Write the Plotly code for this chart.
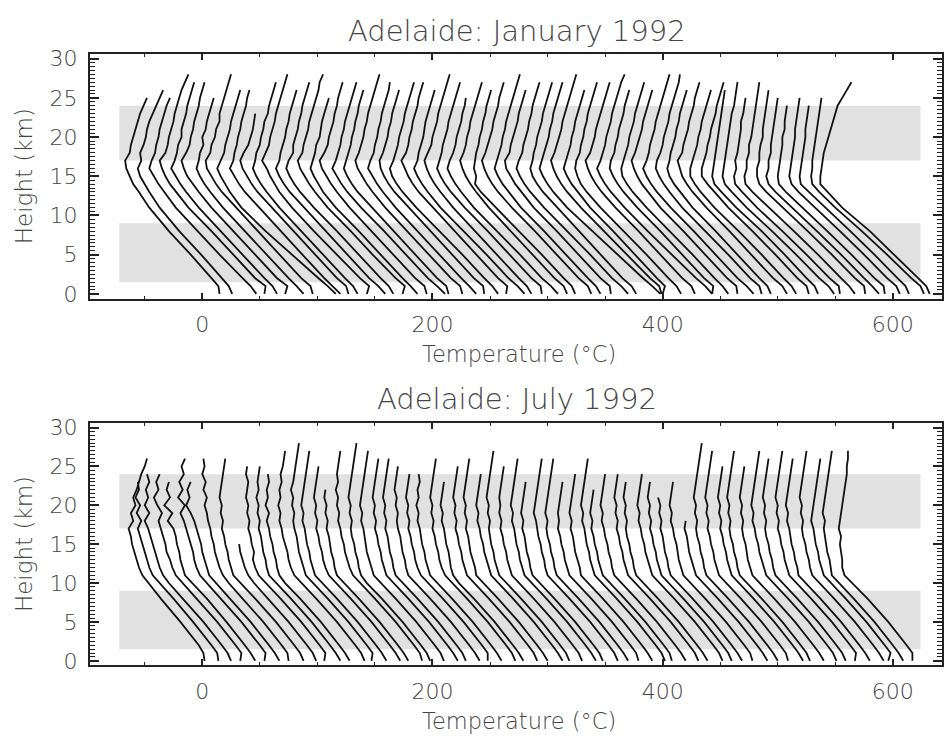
import plotly.graph_objects as go

# ---------------- data ----------------
# heights (km) at which each sounding's temperature is given
HEIGHTS_JAN = [0, 1, 2, 5, 8, 11, 13, 14, 15, 16, 17, 18, 19, 20, 21, 22, 23, 24, 25, 26, 27, 28]
HEIGHTS_JUL = [0, 1, 2, 5, 8, 10, 11, 12, 13, 14, 15, 16, 17, 18, 19, 20, 21, 22, 23, 24, 25, 26, 27, 28]

# successive soundings are shifted by this many degrees
OFFSET_STEP = 10

# temperature (°C) of each sounding, from the ground up (profile ends where the list ends)
TEMPS_JAN = [
    [15, 14, 8, -10, -29, -46, -55, -60, -63, -66, -67, -63, -62, -60, -58, -56, -54, -51, -48],
    [16, 13, 7, -11, -30, -47, -56, -60, -64, -66, -63, -64, -61, -59, -58, -56, -53, -50, -47, -44],
    [27, 22, 15, -5, -24, -43, -53, -58, -62, -66, -64, -61, -60, -58, -57, -55, -53, -51, -48],
    [24, 25, 16, -3, -22, -42, -53, -58, -62, -65, -67, -62, -60, -59, -57, -55, -54, -52, -50, -48, -45, -42],
    [25, 21, 14, -5, -24, -43, -54, -59, -63, -67, -64, -62, -61, -58, -58, -56, -54, -53, -51, -49, -47],
    [22, 24, 15, -4, -23, -42, -53, -58, -63, -66, -68, -64, -61, -60, -58, -57, -55, -53, -52, -50, -48],
    [28, 22, 15, -4, -23, -42, -53, -58, -62, -65, -63, -62, -59, -60, -57, -56, -54, -52, -50],
    [26, 24, 16, -3, -22, -41, -53, -58, -62, -66, -67, -63, -62, -59, -58, -55, -55, -53, -51, -49, -47, -45],
    [36, 29, 21, -2, -25, -46, -56, -60, -64, -67, -64, -61, -60, -58, -56, -55, -53, -51, -49, -47],
    [30, 23, 16, -3, -22, -41, -53, -58, -62, -66, -63, -62, -60, -59, -57, -56, -54, -52, -51, -49],
    [27, 25, 17, -2, -21, -40, -52, -57, -61, -65, -67, -64, -60, -58, -56, -55, -54],
    [25, 21, 14, -5, -24, -43, -54, -59, -63, -66, -64, -63, -60, -59, -57, -56, -53, -52, -50, -48, -46],
    [23, 25, 17, -3, -23, -42, -53, -57, -61, -64, -68, -65, -62, -61, -59, -57, -56, -54, -52, -50, -48, -46],
    [29, 23, 15, -4, -23, -42, -54, -59, -63, -66, -63, -62, -60, -58, -57, -55, -54, -52, -50, -48],
    [26, 22, 15, -4, -23, -43, -55, -60, -64, -67, -65, -61, -61, -59, -57, -56, -54, -53, -51, -49, -47],
    [24, 26, 18, -2, -21, -41, -52, -57, -61, -65, -67, -63, -62, -60, -58, -57, -55, -53, -51, -49, -48, -45],
    [27, 21, 14, -5, -24, -44, -55, -59, -63, -66, -64, -62, -61, -58, -57, -56, -54, -52, -50],
    [25, 23, 15, -4, -23, -42, -53, -58, -62, -66, -68, -64, -61, -60, -58, -56, -55, -53, -52, -50, -48],
    [31, 24, 16, -3, -22, -42, -54, -59, -63, -67, -64, -62, -60, -59, -57, -56, -54, -52, -50, -48, -46],
    [24, 22, 14, -5, -24, -43, -55, -60, -64, -67, -65, -63, -61, -60, -58, -57, -55, -54, -52, -50],
    [26, 24, 16, -3, -22, -41, -52, -57, -61, -65, -67, -64, -62, -60, -59, -57, -56, -54, -52, -50, -48, -46],
    [28, 22, 15, -4, -23, -42, -53, -58, -62, -66, -64, -61, -60, -58, -57, -55, -54, -52, -50, -48, -47],
    [25, 24, 16, -3, -22, -41, -53, -58, -62, -65, -66, -63, -61, -59, -58, -56, -55, -53, -51, -49],
    [27, 22, 15, -4, -24, -44, -56, -61, -65, -67, -64, -62, -60, -59, -57, -55, -54, -52, -50, -48, -46],
    [24, 25, 17, -2, -21, -40, -52, -57, -61, -64, -67, -63, -61, -60, -58, -57, -55, -53, -52, -50, -48],
    [30, 24, 16, -3, -23, -43, -54, -59, -63, -66, -63, -62, -60, -58, -57, -56, -54, -52, -50, -48],
    [26, 22, 15, -4, -23, -42, -53, -58, -62, -65, -67, -64, -61, -60, -58, -56, -55, -53, -51, -49, -47, -45],
    [25, 24, 16, -3, -22, -42, -54, -59, -63, -66, -64, -62, -61, -59, -57, -56, -54, -52, -50, -48, -46],
    [29, 23, 15, -4, -24, -44, -55, -60, -64, -67, -65, -62, -60, -59, -57, -55, -54, -52, -51],
    [27, 24, 16, -3, -22, -41, -52, -57, -61, -64, -66, -63, -61, -60, -58, -57, -55, -53, -51, -49, -47],
    [24, 21, 14, -5, -25, -45, -58, -63, -62, -64, -63, -62, -60, -59, -57, -56, -54, -53, -51, -49],
    [28, 25, 17, -2, -21, -41, -53, -58, -62, -65, -67, -64, -62, -60, -58, -57, -55, -53, -52, -50, -48],
    [26, 22, 15, -4, -23, -43, -54, -59, -63, -66, -64, -62, -60, -59, -57, -56, -54, -52, -50, -48, -46, -44],
    [25, 24, 16, -3, -22, -42, -53, -58, -62, -66, -67, -63, -62, -60, -58, -56, -55, -53, -51, -49],
    [30, 24, 16, -3, -23, -43, -55, -60, -64, -67, -65, -62, -61, -59, -57, -56, -54, -53, -51, -49, -47],
    [27, 23, 15, -4, -23, -42, -54, -59, -63, -65, -63, -62, -60, -59, -57, -55, -54, -52, -50, -48, -46],
    [38, 31, 23, 1, -21, -43, -55, -60, -64, -67, -65, -63, -61, -59, -58, -56, -55, -53, -51, -49, -47],
    [29, 27, 19, -1, -21, -41, -53, -58, -62, -65, -67, -64, -62, -60, -58, -57, -55, -53, -51, -49, -47, -45],
    [20, 22, 15, -4, -23, -43, -54, -59, -63, -66, -64, -62, -60, -59, -57, -56, -54, -52, -50, -48],
    [26, 22, 15, -4, -24, -44, -56, -61, -64, -66, -65, -62, -61, -59, -58, -56, -55, -53, -51, -49, -47],
    [28, 25, 17, -2, -21, -41, -53, -58, -62, -65, -67, -63, -61, -59, -58, -56, -54, -52, -50, -48, -46],
    [33, 27, 19, -2, -23, -43, -55, -60, -64, -67, -64, -62, -60, -59, -57, -55, -54, -52, -50, -48, -46, -43],
    [23, 24, 16, -3, -22, -42, -54, -59, -63, -66, -65, -62, -61, -59, -58, -56, -54, -53, -51, -49],
    [27, 22, 15, -4, -24, -44, -56, -61, -65, -66, -64, -62, -60, -59, -57, -55, -54, -52, -50, -48, -46],
    [25, 24, 16, -3, -22, -42, -53, -58, -62, -65, -67, -64, -62, -60, -58, -57, -55, -53, -51, -49],
    [29, 23, 15, -4, -23, -43, -55, -60, -64, -67, -64, -62, -61, -59, -57, -56, -54, -52, -50, -48, -46, -44],
    [26, 24, 16, -3, -23, -43, -54, -59, -63, -66, -65, -62, -60, -59, -57, -55, -54, -52, -50, -48, -46, -45],
    [24, 21, 14, -5, -24, -44, -55, -60, -64, -66, -64, -63, -61, -59, -58, -56, -55, -53, -51, -49],
    [28, 24, 16, -3, -22, -42, -54, -59, -63, -65, -67, -63, -62, -60, -58, -57, -55, -53, -52, -50, -48],
    [26, 22, 15, -4, -24, -45, -57, -62, -66, -66, -64, -62, -60, -59, -57, -56, -54, -52, -50, -48],
    [27, 25, 17, -2, -22, -43, -55, -61, -66, -66, -64, -62, -61, -59, -58, -56, -54, -53, -51, -49, -47],
    [25, 22, 15, -4, -24, -46, -59, -65, -67, -66, -65, -64, -63, -62, -61, -60, -59, -58, -57, -56],
    [29, 24, 16, -4, -25, -47, -60, -66, -68, -67, -66, -65, -64, -63, -62, -61, -60, -58, -57, -56, -55],
    [24, 23, 15, -5, -26, -48, -61, -67, -68, -66, -67, -65, -64, -63, -62, -62, -60, -59, -58],
    [27, 22, 15, -5, -26, -48, -62, -68, -69, -67, -67, -65, -65, -63, -62, -61, -60, -59, -58, -57, -56],
    [26, 25, 17, -3, -24, -46, -60, -66, -68, -68, -66, -66, -65, -63, -63, -62, -61, -60, -59, -58],
    [28, 22, 15, -5, -26, -48, -62, -68, -70, -68, -68, -66, -66, -65, -64, -63, -62, -61, -60],
    [23, 22, 14, -6, -27, -49, -63, -69, -70, -69, -68, -67, -66, -66, -64, -64, -63, -62],
    [26, 23, 15, -5, -26, -48, -62, -68, -70, -69, -68, -67, -66, -65, -65, -64, -63, -62, -61],
    [24, 21, 14, -6, -27, -49, -63, -70, -71, -70, -69, -68, -67, -66, -66, -65, -64, -63],
    [27, 24, 16, -5, -27, -50, -64, -70, -71, -70, -70, -69, -68, -67, -66, -65, -64, -63, -62],
    [22, 19, 12, -9, -30, -54, -67, -73, -73, -72, -71, -70, -68, -66, -64, -62, -60, -58, -54, -50, -46],
]

TEMPS_JUL = [
    [2, 1, -3, -19, -36, -47, -52, -55, -57, -59, -61, -62, -64, -60, -62, -58, -60, -57, -55, -53, -50, -48],
    [4, 3, -2, -18, -35, -47, -53, -56, -58, -60, -62, -64, -66, -63, -67, -64, -68, -65, -66],
    [5, 2, -3, -19, -37, -49, -54, -57, -59, -61, -63, -65, -67, -70, -66, -70, -67, -69, -66, -68],
    [3, 4, -1, -17, -35, -47, -53, -56, -58, -61, -62, -64, -66, -68, -65, -69, -72, -68, -70, -67],
    [6, 2, -3, -19, -36, -49, -55, -57, -59, -60, -62, -63, -65, -70, -66, -73, -68, -71, -69],
    [4, 5, 0, -16, -34, -46, -52, -55, -57, -58, -60, -62, -64, -66, -69, -65, -71, -67, -70, -66, -68, -65],
    [7, 3, -2, -18, -36, -48, -54, -56, -58, -60, -61, -63, -65, -67, -70, -74, -71, -73, -70],
    [5, 4, -1, -17, -35, -47, -52, -55, -57, -59, -60, -62, -63, -65, -66, -68, -66, -69, -67, -70, -68, -69],
    [8, 5, 0, -16, -34, -47, -53, -55, -57, -58, -60, -61, -63, -62, -64, -63, -65, -64, -63, -62, -61, -60],
    [9, 6, 1, -15, -33, -45, -50, -53, -55, -57, -58],
    [6, 7, 2, -14, -32, -45, -51, -54, -56, -55, -57, -58, -60, -59, -61, -60, -62, -61, -60, -62, -61],
    [10, 6, 1, -15, -33, -46, -52, -54, -55, -57, -58, -59, -61, -60, -62, -61, -63, -61, -62, -61, -60],
    [8, 4, -1, -17, -35, -48, -53, -55, -56, -58, -59, -61, -62, -64, -62, -65, -63, -64, -62, -63],
    [11, 8, 3, -13, -31, -44, -50, -53, -55, -56, -58, -60, -61, -63, -62, -64, -62, -63, -61, -62, -60, -59, -58],
    [7, 8, 3, -13, -31, -44, -50, -52, -54, -56, -57, -58, -60, -61, -60, -62, -61, -63, -61, -60, -59, -58, -57, -56],
    [10, 6, 1, -15, -33, -46, -52, -54, -56, -57, -59, -60, -61, -63, -62, -64, -63, -62, -61, -60, -59, -58, -57],
    [12, 8, 3, -13, -31, -44, -50, -53, -55, -56, -58, -59, -61, -60, -62, -61, -63, -62, -61, -60, -59],
    [9, 5, 0, -16, -34, -47, -53, -55, -56, -58, -59, -60, -62, -61, -63, -62, -64, -63],
    [11, 9, 4, -12, -30, -43, -49, -52, -54, -56, -57, -59, -60, -62, -61, -63, -62, -64, -62, -63, -62, -61, -60],
    [8, 5, 0, -16, -34, -47, -52, -54, -55, -57, -58, -60, -61, -60, -62, -61, -63, -62, -61, -60, -59, -58, -57, -56],
    [10, 7, 2, -14, -32, -45, -51, -53, -55, -57, -58, -59, -60, -62, -61, -63, -62, -61, -60, -59, -58, -57, -56],
    [12, 8, 3, -13, -31, -44, -50, -52, -54, -55, -57, -58, -60, -59, -61, -60, -62, -61, -60, -59, -58, -57],
    [9, 6, 1, -15, -33, -46, -52, -54, -55, -57, -58, -59, -61, -60, -62, -61, -63, -62, -61, -60, -59, -58],
    [11, 7, 2, -14, -32, -45, -51, -53, -54, -56, -57, -58, -60, -61, -60, -62, -61, -63, -62, -61, -60],
    [8, 8, 3, -13, -31, -44, -50, -53, -55, -56, -58, -59, -61, -60, -62, -61, -63, -62, -61, -60],
    [10, 6, 1, -15, -33, -46, -52, -54, -56, -57, -59, -60, -61, -63, -62, -64, -62, -63, -61, -62],
    [12, 9, 4, -12, -30, -43, -49, -52, -54, -55, -57, -58, -60, -59, -61, -60, -62, -61, -60, -59, -58, -57],
    [9, 5, 0, -16, -34, -47, -52, -54, -55, -56, -58, -59, -60, -62, -61, -63, -62, -61, -60],
    [11, 8, 3, -13, -31, -44, -50, -52, -54, -55, -57, -58, -60, -59, -61, -60, -62, -61, -60, -59, -58],
    [10, 6, 1, -15, -33, -46, -52, -53, -55, -57, -58, -59, -61, -60, -62, -61, -63, -62, -61, -60, -59, -58],
    [13, 9, 4, -12, -30, -43, -49, -51, -53, -55, -56, -58, -59, -61, -60, -62, -61, -60, -59, -58],
    [9, 6, 1, -15, -33, -46, -52, -54, -56, -57, -59, -60, -61, -60, -62, -61, -63, -62, -61, -60, -59, -58, -57],
    [10, 7, 2, -14, -32, -45, -51, -53, -55, -56, -58, -59, -61, -60, -62, -61, -62, -61, -60, -59, -58],
    [12, 8, 3, -13, -31, -44, -50, -52, -54, -55, -57, -58, -59, -61, -60, -62, -61, -60, -59, -58, -57, -56],
    [8, 5, 0, -16, -34, -47, -53, -55, -56, -58, -59, -60, -62, -61, -63, -62, -61, -60, -59],
    [11, 8, 3, -13, -31, -44, -50, -52, -53, -55, -56, -58, -59, -60, -62, -61, -60, -59, -58, -57, -56, -55],
    [10, 6, 1, -15, -33, -46, -52, -54, -55, -57, -58, -60, -61, -60, -62, -61, -60, -59, -58, -57, -56, -55],
    [9, 7, 2, -14, -32, -45, -51, -53, -55, -56, -58, -59, -61, -60, -61, -60, -59, -58, -57],
    [11, 7, 2, -14, -32, -45, -51, -52, -54, -56, -57, -58, -60, -59, -61, -60, -59, -58, -57, -56],
    [12, 9, 4, -12, -30, -43, -49, -51, -53, -54, -56, -57, -58, -60, -59, -61, -60, -59, -58, -57, -56, -55],
    [8, 6, 1, -15, -33, -46, -52, -54, -56, -57, -59, -60, -62, -61, -63, -62, -61, -60],
    [10, 6, 1, -15, -33, -46, -52, -54, -55, -57, -58, -60, -61, -63, -62, -64, -63, -62, -61, -60],
    [11, 8, 3, -13, -31, -44, -50, -52, -54, -55, -57, -58, -60, -59, -61, -60, -62, -61, -60, -59],
    [9, 5, 0, -16, -34, -47, -53, -55, -56, -58, -59, -61, -62, -61, -63, -62, -64, -63, -62],
    [12, 9, 4, -12, -30, -43, -49, -51, -53, -55, -56, -58, -59, -61, -60, -62, -61, -60, -59, -58],
    [10, 7, 2, -14, -32, -45, -51, -53, -55, -56, -58, -59, -61, -60, -62, -61, -63, -62, -61],
    [9, 5, 0, -16, -34, -47, -53, -55, -56, -58, -59, -60, -62, -61, -63, -62, -64],
    [8, 6, 1, -15, -33, -46, -52, -54, -56, -57, -58, -60, -61, -63, -62, -64, -63, -62, -61],
    [11, 7, 2, -14, -32, -45, -51, -53, -55, -57, -58, -59, -61, -60],
    [10, 6, 1, -15, -33, -46, -52, -54, -55, -57, -58, -60, -61, -60, -62, -61, -63, -62, -61, -60, -59, -58, -57, -56],
    [9, 7, 2, -14, -32, -45, -51, -53, -55, -56, -58, -59, -61, -60, -62, -61, -63, -62, -61, -60, -59, -58, -57],
    [12, 8, 3, -13, -31, -44, -50, -52, -54, -55, -57, -58, -60, -59, -61, -60, -62, -61, -60, -59, -58],
    [8, 5, 0, -16, -34, -47, -53, -55, -56, -58, -59, -61, -62, -61, -63, -62, -64, -63, -62, -61, -60, -59, -58],
    [10, 6, 1, -15, -33, -46, -52, -54, -56, -57, -58, -60, -61, -60, -62, -61, -63, -62, -61, -60, -59],
    [11, 8, 3, -13, -31, -44, -50, -52, -54, -56, -57, -59, -60, -62, -61, -63, -62, -61, -60, -59, -58, -57, -56],
    [9, 6, 1, -15, -33, -46, -52, -54, -55, -57, -58, -60, -61, -60, -62, -61, -63, -62, -61, -60, -59, -58],
    [7, 8, 3, -13, -31, -44, -50, -52, -54, -55, -57, -58, -60, -59, -61, -60, -62, -61, -60, -59, -58, -57, -56],
    [10, 6, 1, -15, -33, -46, -52, -53, -55, -56, -58, -59, -60, -62, -61, -63, -62, -61, -60, -59, -58, -57],
    [12, 8, 3, -13, -31, -44, -50, -52, -53, -55, -56, -58, -59, -58, -60, -59, -61, -60, -59, -58, -57, -56, -55],
    [6, 8, 3, -13, -31, -44, -50, -52, -54, -55, -57, -58, -59, -61, -60, -59, -58, -57, -56, -55, -54, -53],
    [9, 5, 0, -16, -34, -47, -53, -54, -55, -57, -58, -59, -60, -59, -61, -60, -59, -58, -57, -56, -55, -54, -53],
    [7, 7, 2, -14, -32, -45, -52, -54, -54, -55, -56, -55, -57, -56, -55, -54, -53, -52, -51, -50, -50, -49, -49],
]

SHADED_BANDS_KM = [(1.5, 9.0), (17.0, 24.0)]
BAND_T_SPAN = (-72, 624)

PANEL_TITLES = ["Adelaide: January 1992", "Adelaide: July 1992"]
X_TITLE = "Temperature (°C)"
Y_TITLE = "Height (km)"
X_TICKS = [0, 200, 400, 600]
Y_TICKS = [0, 5, 10, 15, 20, 25, 30]
X_RANGE = [-97.7, 642.7]
Y_RANGE = [-0.6, 30.6]

# ---------------- figure ----------------
W, H = 944, 741
FONT = "DejaVu Sans"
TXT = "#444444"

# panel pixel boxes (left, right, top, bottom)
PANELS = [(90, 944, 47, 297), (90, 944, 424, 672)]


def stacked(temps, heights):
    xs, ys = [], []
    for i, prof in enumerate(temps):
        for z, t in zip(heights, prof):
            xs.append(t + OFFSET_STEP * i)
            ys.append(z)
        xs.append(None)
        ys.append(None)
    return xs, ys


fig = go.Figure()
datasets = [(TEMPS_JAN, HEIGHTS_JAN), (TEMPS_JUL, HEIGHTS_JUL)]
for p, (temps, heights) in enumerate(datasets):
    xs, ys = stacked(temps, heights)
    sfx = "" if p == 0 else str(p + 1)
    fig.add_trace(go.Scatter(x=xs, y=ys, mode="lines",
                             line=dict(color="#111111", width=1.8),
                             xaxis="x" + sfx, yaxis="y" + sfx,
                             hoverinfo="skip", showlegend=False,
                             connectgaps=False))
    for (z0, z1) in SHADED_BANDS_KM:
        fig.add_shape(type="rect", xref="x" + sfx, yref="y" + sfx,
                      x0=BAND_T_SPAN[0], x1=BAND_T_SPAN[1], y0=z0, y1=z1,
                      fillcolor="#e1e1e1", line=dict(width=0), layer="below")

axis_common = dict(showline=True, linecolor="#222222", linewidth=2,
                   mirror="allticks", ticks="inside", tickcolor="#222222",
                   showgrid=False, zeroline=False,
                   tickfont=dict(family=FONT, size=22, color=TXT, weight=200))

layout = dict(width=W, height=H, margin=dict(l=0, r=0, t=0, b=0),
              paper_bgcolor="white", plot_bgcolor="white", showlegend=False)

annotations = []
for p, (l, r, t, b) in enumerate(PANELS):
    sfx = "" if p == 0 else str(p + 1)
    xd = [l / W, r / W]
    yd = [1 - b / H, 1 - t / H]
    layout["xaxis" + sfx] = dict(axis_common, domain=xd, range=X_RANGE,
                                 tickvals=X_TICKS, ticklen=6, tickwidth=1.5,
                                 ticklabelstandoff=5,
                                 minor=dict(dtick=50, ticklen=3, ticks="inside",
                                            tickcolor="#222222", tickwidth=1.2),
                                 anchor="y" + sfx)
    layout["yaxis" + sfx] = dict(axis_common, domain=yd, range=Y_RANGE,
                                 tickvals=Y_TICKS, ticklen=9, tickwidth=1.5,
                                 ticklabelstandoff=6,
                                 minor=dict(dtick=0.5, ticklen=5, ticks="inside",
                                            tickcolor="#222222", tickwidth=1.1),
                                 anchor="x" + sfx)
    annotations.append(dict(text=PANEL_TITLES[p], x=518 / W, y=1 - (t - 24) / H,
                            xref="paper", yref="paper", showarrow=False,
                            xanchor="center", yanchor="middle",
                            font=dict(family=FONT, size=29, color=TXT, weight=200)))
    annotations.append(dict(text=X_TITLE, x=520 / W, y=1 - (b + 57) / H,
                            xref="paper", yref="paper", showarrow=False,
                            xanchor="center", yanchor="middle",
                            font=dict(family=FONT, size=22.5, color=TXT, weight=200)))
    annotations.append(dict(text=Y_TITLE, x=24 / W, y=1 - (t + b) / 2 / H,
                            xref="paper", yref="paper", showarrow=False,
                            textangle=-90, xanchor="center", yanchor="middle",
                            font=dict(family=FONT, size=23, color=TXT, weight=200)))

layout["annotations"] = annotations
fig.update_layout(**layout)
fig.write_html("out.html")
